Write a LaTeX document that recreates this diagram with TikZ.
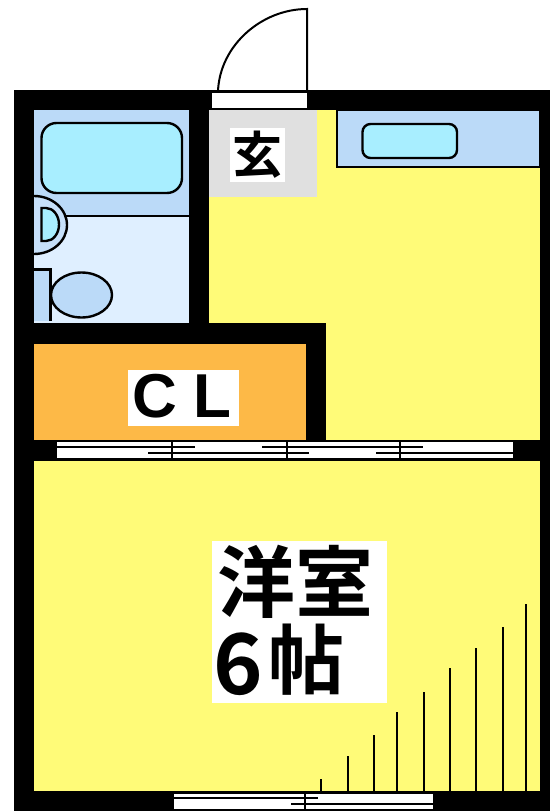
\documentclass[tikz,border=0pt]{standalone}
\usepackage{fontspec}
\setmainfont{Liberation Sans}
\newfontfamily\jpfont{Noto Sans CJK JP Bold}
\definecolor{wallk}{HTML}{000000}
\definecolor{roomy}{HTML}{FFFB78}
\definecolor{closet}{HTML}{FDB947}
\definecolor{bathb}{HTML}{BBDAF8}
\definecolor{washb}{HTML}{DFEFFF}
\definecolor{tubc}{HTML}{A8EEFF}
\definecolor{entry}{HTML}{E0E0E0}
\tikzset{
  wall/.style={fill=wallk,draw=none},
  fixture/.style={draw=black,line width=2.4pt},
  rail/.style={draw=black,line width=2pt},
  tread/.style={draw=black,line width=2.6pt},
  label/.style={fill=white,inner sep=0pt,text=black,align=center}
}
\begin{document}
\begin{tikzpicture}[x=1pt,y=-1pt]
\useasboundingbox (0,0) rectangle (550,811);
\fill[white] (0,0) rectangle (550,811);
% walls
\fill[wall] (14,90) rectangle (550,811);
% rooms
\fill[roomy] (209,110) rectangle (540,440);
\fill[wall] (14,323) rectangle (326,440);
\fill[closet] (34,344) rectangle (306,440);
\fill[roomy] (34,461) rectangle (540,791);
\fill[washb] (34,110) rectangle (189,323);
\fill[bathb] (34,110) rectangle (189,216);
\fill[entry] (209,110) rectangle (317,197);
% bathroom fixtures
\draw[fixture,fill=tubc,rounded corners=15pt] (41.5,123) rectangle (182,193);
\draw[fixture] (66,216) -- (189,216);
\draw[fixture,fill=bathb!70!washb] (34,196) arc[start angle=-90,end angle=90,x radius=33,y radius=29] ;
\draw[fixture,fill=tubc] (41.5,208) -- (46,208) arc[start angle=-90,end angle=90,x radius=13,y radius=16.5] -- (41.5,241) -- cycle;
\draw[fixture,fill=bathb] (34,269.5) -- (50.5,269.5) -- (50.5,321);
\fill[bathb] (34,270.7) rectangle (49.3,321);
\draw[fixture,fill=bathb] (81.5,295) ellipse[x radius=30.5,y radius=22.5];
% kitchen unit
\draw[fixture,fill=bathb] (337,110) -- (337,167) -- (540,167) -- (540,110) -- cycle;
\draw[fixture,fill=tubc,rounded corners=8pt] (362.5,124) rectangle (457,158);
\fill[wall] (330,90) rectangle (550,110);
\fill[wall] (540,90) rectangle (550,300);
% entrance door
\fill[white] (212,92.5) rectangle (307,108);
\draw[rail] (216,91) -- (307,91);
\draw[rail] (212,109) -- (307,109);
\coordinate (hinge) at (307,91);
\coordinate (leaf) at (307,9);
\coordinate (swing) at (218,91);
\draw[rail] (swing) .. controls (220,45) and (262,9) .. (leaf) -- (hinge);
% sliding door, closet side
\fill[white] (57,441.5) rectangle (513,458);
\draw[rail] (57,447) -- (195,447) (262,447) -- (423,447);
\draw[rail] (148,453) -- (309,453) (376,453) -- (513,453);
\draw[rail] (172,441) -- (172,458) (287,441) -- (287,458) (400,441) -- (400,458);
% window, bottom
\fill[white] (174,794) rectangle (433,809);
\draw[rail] (174,797.5) -- (318,797.5);
\draw[rail] (291,804) -- (433,804);
\draw[rail] (305,794) -- (305,811);
% stairs
\draw[tread] (321,779) -- (321,791) (348,756) -- (348,791) (374,735) -- (374,791)
  (397,712) -- (397,791) (424,692) -- (424,791) (450,668) -- (450,791)
  (476,648) -- (476,791) (503,627) -- (503,791) (526,604) -- (526,791);
% labels
\node[label,minimum width=55pt,minimum height=54pt,font=\jpfont\fontsize{50}{50}\selectfont] (genkan) at (257.5,155) {玄};
\node[label,minimum width=111pt,minimum height=56pt] (clbox) at (183.5,398) {};
\node[font=\bfseries\fontsize{62}{62}\selectfont,inner sep=0pt] (clc) at (155,396) {C};
\node[font=\bfseries\fontsize{62}{62}\selectfont,inner sep=0pt] (cll) at (212,396) {L};
\node[label,minimum width=175pt,minimum height=162pt] (roombox) at (299.5,622) {};
\node[font=\jpfont\fontsize{78}{78}\selectfont,inner sep=0pt] (yoshitsu) at (295,582) {洋室};
\node[font=\jpfont\fontsize{84}{84}\selectfont,inner sep=0pt,anchor=base] (six) at (238,694) {6};
\node[font=\jpfont\fontsize{76}{76}\selectfont,inner sep=0pt] (jo) at (306,660) {帖};
\end{tikzpicture}
\end{document}
